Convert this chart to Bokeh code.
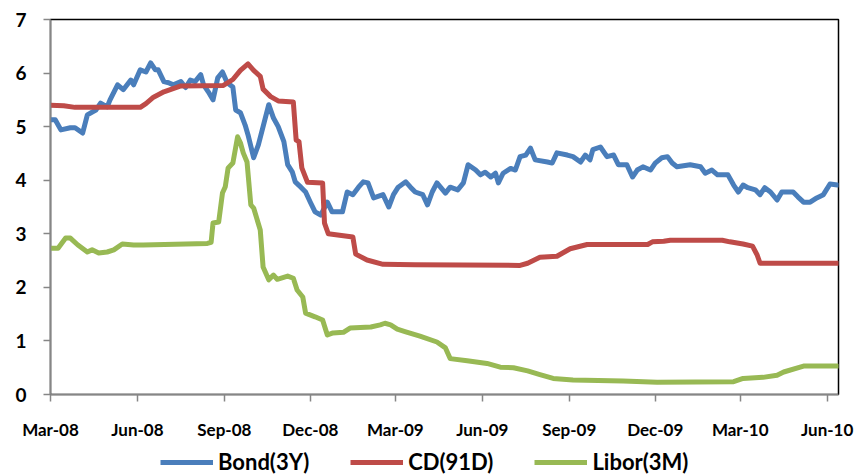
import pandas as pd
from bokeh.plotting import figure
from bokeh.layouts import column
from bokeh.models import Range1d, FixedTicker, DatetimeTickFormatter, Legend, LegendItem
from bokeh.embed import file_html
from bokeh.resources import INLINE

# Series are stored as (days since 1 March 2008, rate in %)
start = pd.Timestamp("2008-03-01")

bond_day = [0, 5, 11, 21, 26, 34, 39, 48, 53, 60,
            63, 71, 77, 85, 88, 95, 101, 106, 111, 114,
            120, 125, 130, 138, 143, 148, 153, 159, 162, 167,
            172, 177, 182, 187, 193, 196, 201, 206, 209, 215,
            220, 225, 231, 236, 241, 247, 251, 256, 259, 265,
            270, 275, 280, 286, 293, 298, 309, 314, 320, 326,
            331, 336, 342, 352, 358, 363, 368, 376, 381, 386,
            394, 399, 404, 409, 418, 423, 431, 437, 442, 450,
            455, 460, 466, 471, 474, 479, 487, 492, 497, 503,
            508, 513, 526, 531, 536, 547, 553, 561, 566, 571,
            574, 582, 589, 596, 601, 610, 616, 621, 627, 635,
            640, 647, 653, 658, 663, 677, 688, 693, 700, 706,
            717, 723, 728, 733, 738, 746, 751, 756, 762, 769,
            774, 786, 791, 797, 804, 811, 818, 825, 833]
bond_pct = [5.13, 5.13, 4.94, 4.98, 4.98, 4.88, 5.22, 5.31, 5.44, 5.37,
            5.50, 5.78, 5.69, 5.87, 5.78, 6.06, 6.02, 6.19, 6.06, 6.06,
            5.84, 5.82, 5.78, 5.84, 5.73, 5.87, 5.84, 5.97, 5.78, 5.65,
            5.50, 5.91, 6.02, 5.82, 5.74, 5.31, 5.26, 5.03, 4.85, 4.42,
            4.66, 5.00, 5.41, 5.16, 5.00, 4.72, 4.29, 4.15, 3.97, 3.87,
            3.78, 3.59, 3.41, 3.35, 3.59, 3.41, 3.41, 3.78, 3.73, 3.87,
            3.97, 3.95, 3.67, 3.73, 3.50, 3.73, 3.87, 3.97, 3.87, 3.78,
            3.73, 3.54, 3.78, 3.95, 3.76, 3.87, 3.82, 3.95, 4.29, 4.19,
            4.10, 4.15, 4.06, 4.13, 3.95, 4.13, 4.22, 4.19, 4.44, 4.47,
            4.60, 4.38, 4.34, 4.32, 4.51, 4.47, 4.44, 4.34, 4.47, 4.38,
            4.57, 4.62, 4.44, 4.47, 4.29, 4.29, 4.06, 4.19, 4.25, 4.19,
            4.32, 4.42, 4.44, 4.32, 4.25, 4.29, 4.25, 4.13, 4.19, 4.10,
            4.10, 3.91, 3.78, 3.91, 3.86, 3.82, 3.73, 3.86, 3.78, 3.63,
            3.78, 3.78, 3.69, 3.59, 3.59, 3.67, 3.73, 3.93, 3.91]

cd_day = [0, 14, 26, 95, 101, 109, 120, 138, 183, 193,
          201, 209, 215, 222, 225, 233, 241, 257, 260, 263,
          266, 272, 288, 290, 294, 320, 323, 335, 352, 386,
          497, 505, 518, 536, 550, 568, 632, 637, 649, 656,
          711, 719, 733, 743, 748, 751, 833]
cd_pct = [5.40, 5.39, 5.36, 5.36, 5.43, 5.55, 5.65, 5.76, 5.77, 5.88,
          6.05, 6.17, 6.05, 5.94, 5.70, 5.56, 5.48, 5.46, 4.75, 4.72,
          4.23, 3.96, 3.95, 3.20, 3.00, 2.94, 2.62, 2.51, 2.43, 2.42,
          2.41, 2.45, 2.56, 2.58, 2.72, 2.80, 2.80, 2.85, 2.86, 2.88,
          2.88, 2.85, 2.81, 2.77, 2.60, 2.45, 2.45]

libor_day = [0, 8, 16, 21, 29, 39, 44, 51, 60, 67,
             76, 88, 98, 166, 170, 172, 178, 182, 185, 188,
             193, 198, 201, 204, 208, 212, 215, 222, 225, 231,
             236, 240, 251, 257, 261, 267, 270, 280, 288, 293,
             299, 310, 317, 339, 349, 354, 360, 367, 376, 391,
             409, 418, 423, 441, 462, 476, 490, 505, 518, 532,
             553, 606, 642, 723, 733, 754, 769, 776, 797, 833]
libor_pct = [2.73, 2.73, 2.92, 2.92, 2.79, 2.66, 2.70, 2.64, 2.66, 2.70,
             2.81, 2.79, 2.79, 2.82, 2.84, 3.20, 3.22, 3.76, 3.88, 4.23,
             4.32, 4.81, 4.70, 4.51, 4.34, 3.54, 3.48, 3.07, 2.38, 2.14,
             2.23, 2.15, 2.21, 2.17, 1.95, 1.82, 1.52, 1.45, 1.39, 1.11,
             1.15, 1.16, 1.24, 1.26, 1.30, 1.33, 1.30, 1.22, 1.17, 1.09,
             0.98, 0.87, 0.67, 0.63, 0.58, 0.51, 0.50, 0.44, 0.37, 0.30,
             0.27, 0.25, 0.23, 0.24, 0.30, 0.32, 0.36, 0.42, 0.53, 0.53]

series_names = ["Bond(3Y)", "CD(91D)", "Libor(3M)"]
series_colors = ["#4A7EBB", "#BE4B48", "#98B954"]

quarter_ticks = ["2008-03-01", "2008-06-01", "2008-09-01", "2008-12-01",
                 "2009-03-01", "2009-06-01", "2009-09-01", "2009-12-01",
                 "2010-03-01", "2010-06-01"]
y_ticks = [0, 1, 2, 3, 4, 5, 6, 7]
last_day = 834


def to_dates(days):
    return [start + pd.Timedelta(days=d) for d in days]


series = [(bond_day, bond_pct), (cd_day, cd_pct), (libor_day, libor_pct)]

# Main chart
p = figure(width=859, height=440, frame_width=788, frame_height=375,
           x_axis_type="datetime",
           output_backend="svg", toolbar_location=None,
           x_range=Range1d(start, start + pd.Timedelta(days=last_day)),
           y_range=Range1d(0, 7),
           min_border_left=50, min_border_right=21,
           min_border_top=19, min_border_bottom=0)

p.background_fill_color = "white"
p.border_fill_color = "white"
p.outline_line_color = "black"
p.outline_line_width = 1.5
p.xgrid.visible = False
p.ygrid.visible = False

for (days, vals), color in zip(series, series_colors):
    p.line(to_dates(days), vals, line_color=color, line_width=5,
           line_join="round", line_cap="round")

tick_ms = [pd.Timestamp(t).value // 10**6 for t in quarter_ticks]
p.xaxis.ticker = FixedTicker(ticks=tick_ms)
fmt = "%b-%y"
p.xaxis.formatter = DatetimeTickFormatter(
    years=fmt, months=fmt, days=fmt, hours=fmt, minutes=fmt,
    seconds=fmt, milliseconds=fmt, microseconds=fmt)
p.yaxis.ticker = FixedTicker(ticks=y_ticks)

for ax in (p.xaxis[0], p.yaxis[0]):
    ax.axis_line_color = "#868686"
    ax.axis_line_width = 1.5
    ax.major_tick_line_color = "#868686"
    ax.major_tick_line_width = 1.5
    ax.major_tick_in = 0
    ax.major_tick_out = 7
    ax.minor_tick_line_color = None
    ax.major_label_text_font = "Lato"
    ax.major_label_text_font_style = "bold"
    ax.major_label_text_color = "black"

p.xaxis.major_label_text_font_size = "17px"
p.xaxis.major_label_standoff = 17
p.yaxis.major_label_text_font_size = "19px"
p.yaxis.major_label_standoff = 17

# Legend strip underneath the chart; its key renderers carry the same
# series but sit outside this strip's visible range, so only the keys show.
q = figure(width=859, height=35, output_backend="svg", toolbar_location=None,
           x_range=Range1d(0, 859), y_range=Range1d(0, 35),
           x_axis_location=None, y_axis_location=None,
           min_border=0)
q.outline_line_color = None
q.xgrid.visible = False
q.ygrid.visible = False

keys = [q.line(to_dates(days), vals, line_color=c, line_width=5)
        for (days, vals), c in zip(series, series_colors)]

legend = Legend(
    items=[LegendItem(label=n, renderers=[r]) for n, r in zip(series_names, keys)],
    orientation="horizontal", location=(110, 2),
    border_line_color=None, background_fill_alpha=0,
    padding=0, margin=0, spacing=41,
    glyph_width=53, glyph_height=24, label_height=24, label_standoff=5,
    label_text_font="Lato", label_text_font_style="bold",
    label_text_font_size="22px", label_text_color="black")
q.add_layout(legend, "center")

layout = column(p, q, spacing=0)
open("out.html", "w").write(file_html(layout, INLINE))
